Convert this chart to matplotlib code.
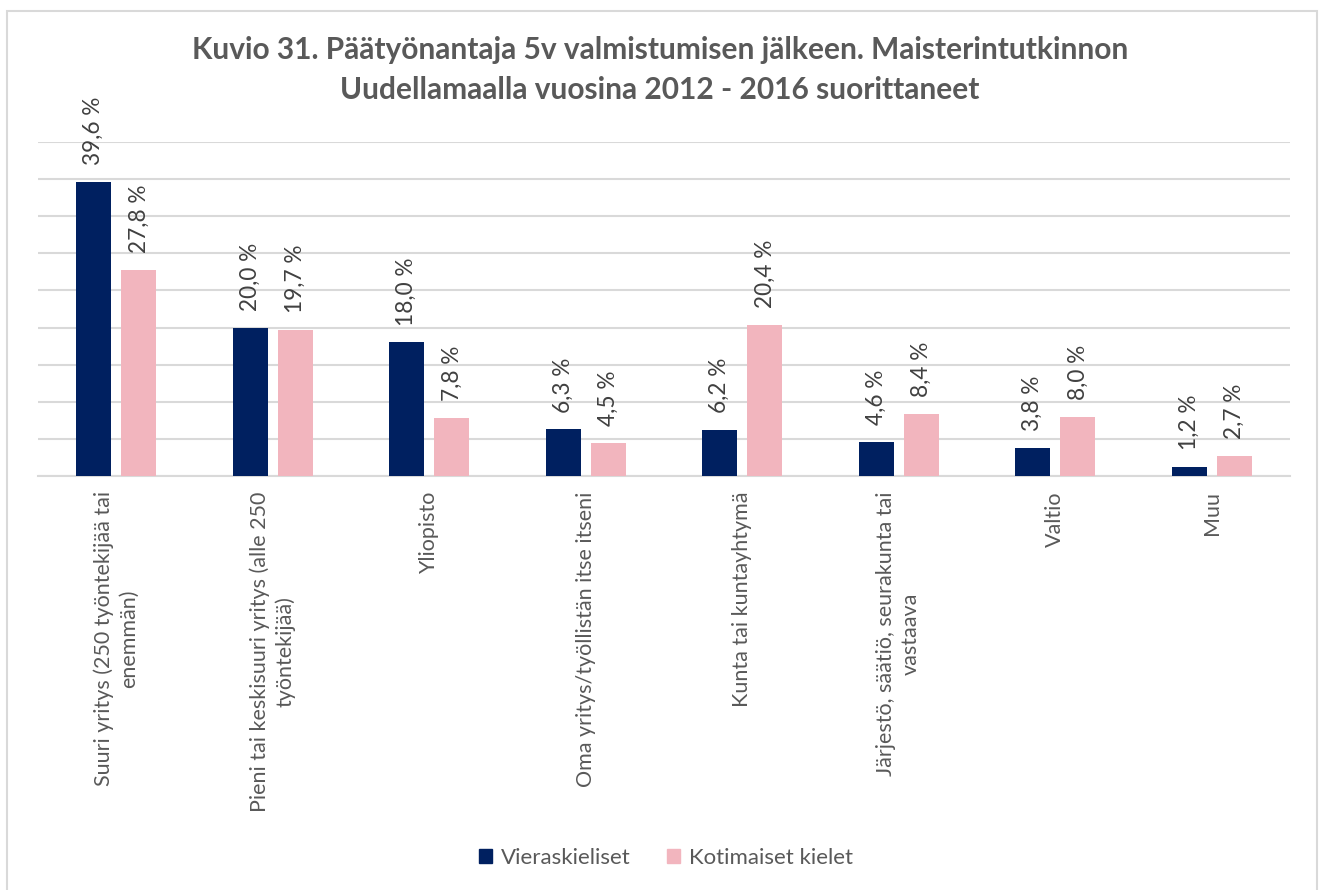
import matplotlib
matplotlib.use("Agg")
import matplotlib.pyplot as plt
import numpy as np
from matplotlib.patches import Rectangle, Patch

categories = [
    "Suuri yritys (250 työntekijää tai\nenemmän)",
    "Pieni tai keskisuuri yritys (alle 250\ntyöntekijää)",
    "Yliopisto",
    "Oma yritys/työllistän itse itseni",
    "Kunta tai kuntayhtymä",
    "Järjestö, säätiö, seurakunta tai\nvastaava",
    "Valtio",
    "Muu",
]
vieraskieliset = [39.6, 20.0, 18.0, 6.3, 6.2, 4.6, 3.8, 1.2]
kotimaiset = [27.8, 19.7, 7.8, 4.5, 20.4, 8.4, 8.0, 2.7]
series_names = ["Vieraskieliset", "Kotimaiset kielet"]
title = ("Kuvio 31. Päätyönantaja 5v valmistumisen jälkeen. Maisterintutkinnon\n"
         "Uudellamaalla vuosina 2012 - 2016 suorittaneet")

BLUE = "#002060"
PINK = "#F2B5BE"
GRID = "#D9D9D9"
TXT = "#595959"
LBL = "#404040"

plt.rcParams['font.family'] = ['Lato', 'DejaVu Sans']

W, H = 1320, 890
fig = plt.figure(figsize=(W / 100, H / 100), dpi=100)

# chart border
fig.patches.append(Rectangle((7 / W, -0.02), (1317 - 7) / W, (890 - 11) / H + 0.02,
                             transform=fig.transFigure, fill=False,
                             edgecolor=GRID, linewidth=1.5, zorder=0))

ax = fig.add_axes([38 / W, (H - 476) / H, (1290 - 38) / W, (476 - 142) / H])

x = np.arange(len(categories))
bw = 0.224
off = 0.145
b1 = ax.bar(x - off, vieraskieliset, bw, color=BLUE, zorder=3)
b2 = ax.bar(x + off, kotimaiset, bw, color=PINK, zorder=3)

for bars, vals in ((b1, vieraskieliset), (b2, kotimaiset)):
    for rect, v in zip(bars, vals):
        ax.annotate(f"{v:.1f} %".replace(".", ","),
                    (rect.get_x() + rect.get_width() / 2, rect.get_height()),
                    xytext=(0, 12), textcoords="offset points",
                    rotation=90, ha="center", va="bottom",
                    fontsize=16.3, color=LBL)

ax.set_xlim(-0.5, len(categories) - 0.5)
ax.set_ylim(0, 45)
ax.set_yticks(np.arange(0, 46, 5))
ax.yaxis.grid(True, color=GRID, linewidth=1.5, zorder=0)
ax.tick_params(axis="y", left=False, labelleft=False)
ax.set_xticks(x)
ax.set_xticklabels(categories, rotation=90, fontsize=15.5, color=TXT,
                   multialignment="center", linespacing=1.3)
ax.tick_params(axis="x", length=0, pad=11)
for s in ("top", "right", "left"):
    ax.spines[s].set_visible(False)
ax.spines["bottom"].set_color(GRID)
ax.spines["bottom"].set_linewidth(1.5)

fig.text(0.5, (H - 70) / H, title, ha="center", va="center", fontsize=21.5,
         fontweight="bold", color=TXT, linespacing=1.5)

handles = [Patch(color=BLUE), Patch(color=PINK)]
fig.legend(handles, series_names, loc="center", bbox_to_anchor=(666 / W, (H - 858) / H),
           ncol=2, frameon=False, fontsize=16, labelcolor=TXT,
           handlelength=0.6, handleheight=0.6, handletextpad=0.4, columnspacing=1.6)

fig.savefig("out.png", dpi=100)
